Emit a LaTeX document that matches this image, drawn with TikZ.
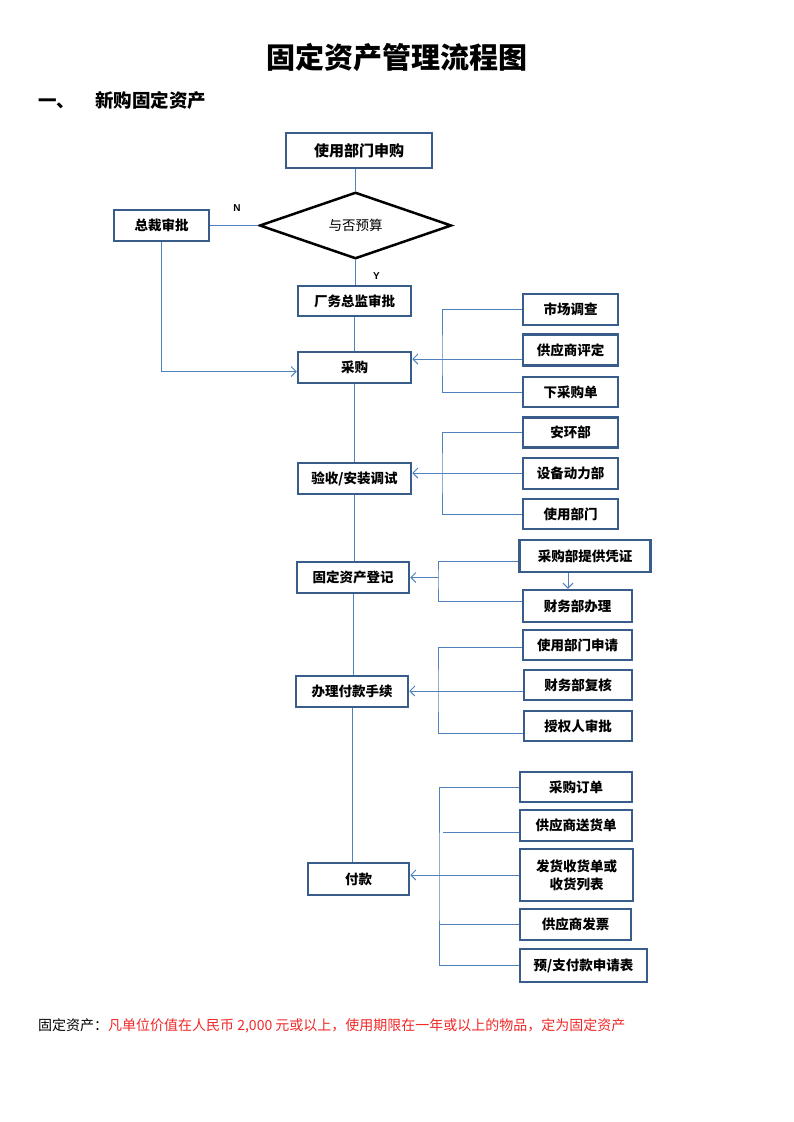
\documentclass[tikz,border=0pt]{standalone}
\usepackage{fontspec}
\usepackage{tikz}
\usetikzlibrary{shapes.geometric,arrows.meta,positioning}
\newfontfamily\cjk{Noto Sans CJK SC}
\newfontfamily\lat{Liberation Sans}
\definecolor{boxblue}{RGB}{56,93,138}
\definecolor{lineblue}{RGB}{79,129,189}
\definecolor{notered}{RGB}{240,40,40}

\begin{document}
\begin{tikzpicture}[>={Straight Barb[length=5pt,width=10pt]},
  box/.style={draw=boxblue, line width=2.5pt, fill=white, inner sep=0pt, minimum height=31pt,
    font=\cjk\bfseries\fontsize{13.5}{18}\selectfont, align=center},
  link/.style={draw=lineblue, line width=0.9pt},
  yn/.style={font=\lat\bfseries\fontsize{10}{12}\selectfont}]
  \useasboundingbox (0pt,0pt) rectangle (793pt,-1122pt);
  % headings
  \draw (396.5pt, -58.0pt)node[font=\cjk\bfseries\fontsize{29}{32}\selectfont](title){固定资产管理流程图};
  \draw (38.0pt, -100.0pt)node[anchor=west, inner sep=0pt, font=\cjk\bfseries\fontsize{18.5}{22}\selectfont](sect){一、\hspace{20pt}新购固定资产};
  % main column
  \draw (359.0pt, -150.5pt)node[box, minimum width=146pt, minimum height=35pt, font=\cjk\bfseries\fontsize{15}{18}\selectfont](apply){使用部门申购};
  \draw (355.5pt, -225.5pt)node[diamond, draw=black, line width=2.5pt, inner sep=0pt, minimum width=192pt, minimum height=64pt, font=\cjk\fontsize{13.5}{16}\selectfont](budget){与否预算};
  \draw (161.5pt, -225.5pt)node[box, minimum width=95pt](ceo){总裁审批};
  \draw (354.5pt, -301.0pt)node[box, minimum width=113pt, minimum height=30pt](director){厂务总监审批};
  \draw (354.5pt, -367.5pt)node[box, minimum width=113pt](purchase){采购};
  \draw (354.5pt, -478.5pt)node[box, minimum width=113pt](accept){验收/安装调试};
  \draw (353.0pt, -577.5pt)node[box, minimum width=112pt](register){固定资产登记};
  \draw (352.0pt, -691.5pt)node[box, minimum width=112pt](procedure){办理付款手续};
  \draw (358.5pt, -879.0pt)node[box, minimum width=101pt, minimum height=32pt](payment){付款};
  \draw (237.0pt, -208.0pt)node[yn](nlabel){N};
  \draw (376.5pt, -276.0pt)node[yn](ylabel){Y};
  % side boxes
  \draw (570.5pt, -309.5pt)node[box, minimum width=95pt](survey){市场调查};
  \draw (570.5pt, -350.0pt)node[box, minimum width=95pt](rating){供应商评定};
  \draw (570.5pt, -392.0pt)node[box, minimum width=95pt, minimum height=30pt](order){下采购单};
  \draw (570.5pt, -432.5pt)node[box, minimum width=95pt, minimum height=30pt](env){安环部};
  \draw (570.5pt, -473.5pt)node[box, minimum width=95pt](equip){设备动力部};
  \draw (570.5pt, -514.0pt)node[box, minimum width=95pt, minimum height=30pt](user){使用部门};
  \draw (585.0pt, -556.0pt)node[box, minimum width=131pt, minimum height=32pt](voucher){采购部提供凭证};
  \draw (577.5pt, -606.0pt)node[box, minimum width=109pt, minimum height=32pt](finance){财务部办理};
  \draw (577.5pt, -645.0pt)node[box, minimum width=109pt, minimum height=30pt](request){使用部门申请};
  \draw (578.0pt, -685.0pt)node[box, minimum width=108pt, minimum height=30pt](review){财务部复核};
  \draw (578.0pt, -726.0pt)node[box, minimum width=108pt, minimum height=30pt](authz){授权人审批};
  \draw (576.0pt, -787.0pt)node[box, minimum width=112pt, minimum height=30pt](po){采购订单};
  \draw (576.0pt, -825.5pt)node[box, minimum width=112pt](delivery){供应商送货单};
  \draw (576.5pt, -875.0pt)node[box, minimum width=113pt, minimum height=52pt](receipt){发货收货单或\\收货列表};
  \draw (575.5pt, -924.5pt)node[box, minimum width=111pt](invoice){供应商发票};
  \draw (583.5pt, -965.5pt)node[box, minimum width=127pt, minimum height=33pt](payform){预/支付款申请表};
  % bracket corners
  \coordinate (bk1) at (442pt, -359pt);
  \coordinate (bk2) at (442pt, -473pt);
  \coordinate (bk3) at (438pt, -577.5pt);
  \coordinate (bk4) at (438pt, -691pt);
  \coordinate (bk5) at (439pt, -877pt);
  % main flow
  \path[link] (apply.south -| budget.north) edge (budget.north);
  \path[link] (budget.south) edge (budget.south |- director.north);
  \path[link] (budget.west) edge (ceo.east);
  \path[link] (director.south) edge (director.south |- purchase.north);
  \draw[link,->] (ceo.south) |- ([yshift=-4pt]purchase.west);
  \path[link] (purchase.south) edge (purchase.south |- accept.north);
  \path[link] (accept.south) edge (accept.south |- register.north);
  \path[link] (register.south) edge (register.south |- procedure.north);
  \path[link] (procedure.south) edge (procedure.south |- payment.north);
  % brackets
  \draw[link] (survey.west) -| (bk1) |- (order.west);
  \path[link] (bk1 -| rating.west) edge[->] (bk1 -| purchase.east);
  \draw[link] (env.west) -| (bk2) |- (user.west);
  \path[link] (bk2 -| equip.west) edge[->] (bk2 -| accept.east);
  \draw[link] ([yshift=-5pt]voucher.west) -| (bk3) |- ([yshift=5pt]finance.west);
  \path[link] (bk3) edge[->] (bk3 -| register.east);
  \path[link] ([xshift=-17pt]voucher.south) edge[->] ([xshift=-17pt]voucher.south |- finance.north);
  \draw[link] ([yshift=-2pt]request.west) -| (bk4) |- ([yshift=-7pt]authz.west);
  \path[link] (bk4 -| review.west) edge[->] (bk4 -| procedure.east);
  \draw[link] (po.west) -| (bk5) |- (payform.west);
  \draw[link] ([yshift=-6.5pt]delivery.west) -- +(-76pt,0);
  \path[link] (invoice.west) edge (invoice.west -| bk5);
  \path[link] (receipt.west) edge[->] (receipt.west -| payment.east);
  % note
  \draw (38.0pt, -1026.0pt)node[anchor=west, inner sep=0pt, font=\cjk\fontsize{14}{16}\selectfont](note){固定资产：\textcolor{notered}{凡单位价值在人民币 2,000 元或以上，使用期限在一年或以上的物品，定为固定资产}};
\end{tikzpicture}
\end{document}
